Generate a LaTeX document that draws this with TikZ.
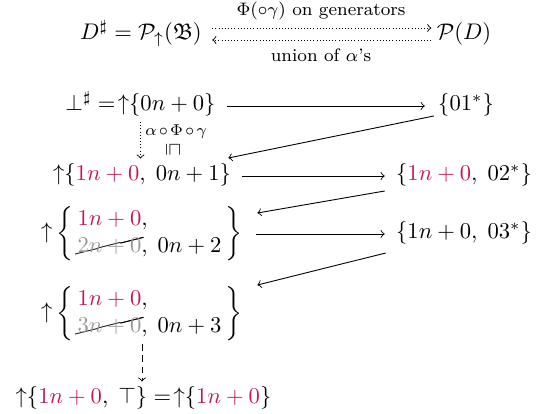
\documentclass[tikz,border=0pt]{standalone}
\usepackage{amssymb}
\usepackage{cancel}
\usepackage{graphicx}
\usetikzlibrary{calc}
\renewcommand{\CancelColor}{\color{black}}
\setlength{\arraycolsep}{2pt}
\definecolor{hl}{RGB}{200,20,80}
\definecolor{strk}{gray}{0.6}
\begin{document}
\begin{tikzpicture}[x=0.4425pt,y=-0.4425pt,
  mnode/.style={inner sep=0pt, anchor=base},
  lbl/.style={inner sep=0pt, font=\footnotesize},
  slbl/.style={inner sep=0pt, font=\scriptsize},
  arr/.style={->, line width=0.4pt},
]
\useasboundingbox (0,0) rectangle (541,414);
% top row
\node[mnode] (d1) at (141,40) {$D^{\sharp} = \mathcal{P}_{\uparrow}(\mathfrak{B})$};
\node[mnode] (p1) at (464,40) {$\mathcal{P}(D)$};
\node[lbl] (l1) at (321,11) {$\Phi(\circ\gamma)$ on generators};
\node[lbl] (l2) at (321,55) {union of $\alpha$'s};
\draw[arr, densely dotted] ([shift={(10,-12)}]d1.base east) -- ([shift={(-5,-12)}]p1.base west);
\draw[arr, densely dotted] ([shift={(-5,0)}]p1.base west) -- ([shift={(10,0)}]d1.base east);
% left column
\node[mnode] (a1) at (140.5,111) {$\bot^{\sharp} =\!{\uparrow}\{0n+0\}$};
\node[mnode] (a2) at (142,181) {${\uparrow}\{{\color{hl}1n+0},\;0n+1\}$};
\node[mnode] (a3) at (142,239) {${\uparrow}\left\{\begin{array}{l}{\color{hl}1n+0},\\ {\color{strk}\cancel{2n+0}},\;0n+2\end{array}\right\}$};
\node[mnode] (a4) at (142,319) {${\uparrow}\left\{\begin{array}{l}{\color{hl}1n+0},\\ {\color{strk}\cancel{3n+0}},\;0n+3\end{array}\right\}$};
\node[mnode] (a5) at (143.5,403) {${\uparrow}\{{\color{hl}1n+0},\;\top\} =\!{\uparrow}\{{\color{hl}1n+0}\}$};
% right column
\node[mnode] (b1) at (466,111) {$\{01^{*}\}$};
\node[mnode] (b2) at (464,181) {$\{{\color{hl}1n+0},\;02^{*}\}$};
\node[mnode] (b3) at (464,239) {$\{1n+0,\;03^{*}\}$};
% labels on dotted vertical arrow
\node[slbl] (l3) at (176,132) {$\medmuskip=2mu\alpha\circ\Phi\circ\gamma$};
\node[slbl] (l4) at (173,150) {\rotatebox{-90}{$\sqsubseteq$}};
% arrows
\draw[arr] ([shift={(11,-5)}]a1.base east) -- ([shift={(-13,-5)}]b1.base west);
\draw[arr] ([shift={(-4,5)}]b1.base west) -- ([shift={(-3,-23)}]a2.base east);
\draw[arr] ([shift={(11,-5)}]a2.base east) -- ([shift={(-11,-5)}]b2.base west);
\draw[arr] ([shift={(-11,10)}]b2.base west) -- ([shift={(14,-26)}]a3.base east);
\draw[arr] ([shift={(13,-5)}]a3.base east) -- ([shift={(-11,-5)}]b3.base west);
\draw[arr] ([shift={(-10,14)}]b3.base west) -- ([shift={(14,-34)}]a4.base east);
\draw[arr, densely dotted] ($(a1.south)+(0,5)$) -- ($(a1.south |- a2.north)+(0,-5)$);
\draw[arr, densely dashed] ($(a4.south)+(0,3)$) -- ($(a4.south |- a5.north)+(0,-4)$);
\end{tikzpicture}
\end{document}
